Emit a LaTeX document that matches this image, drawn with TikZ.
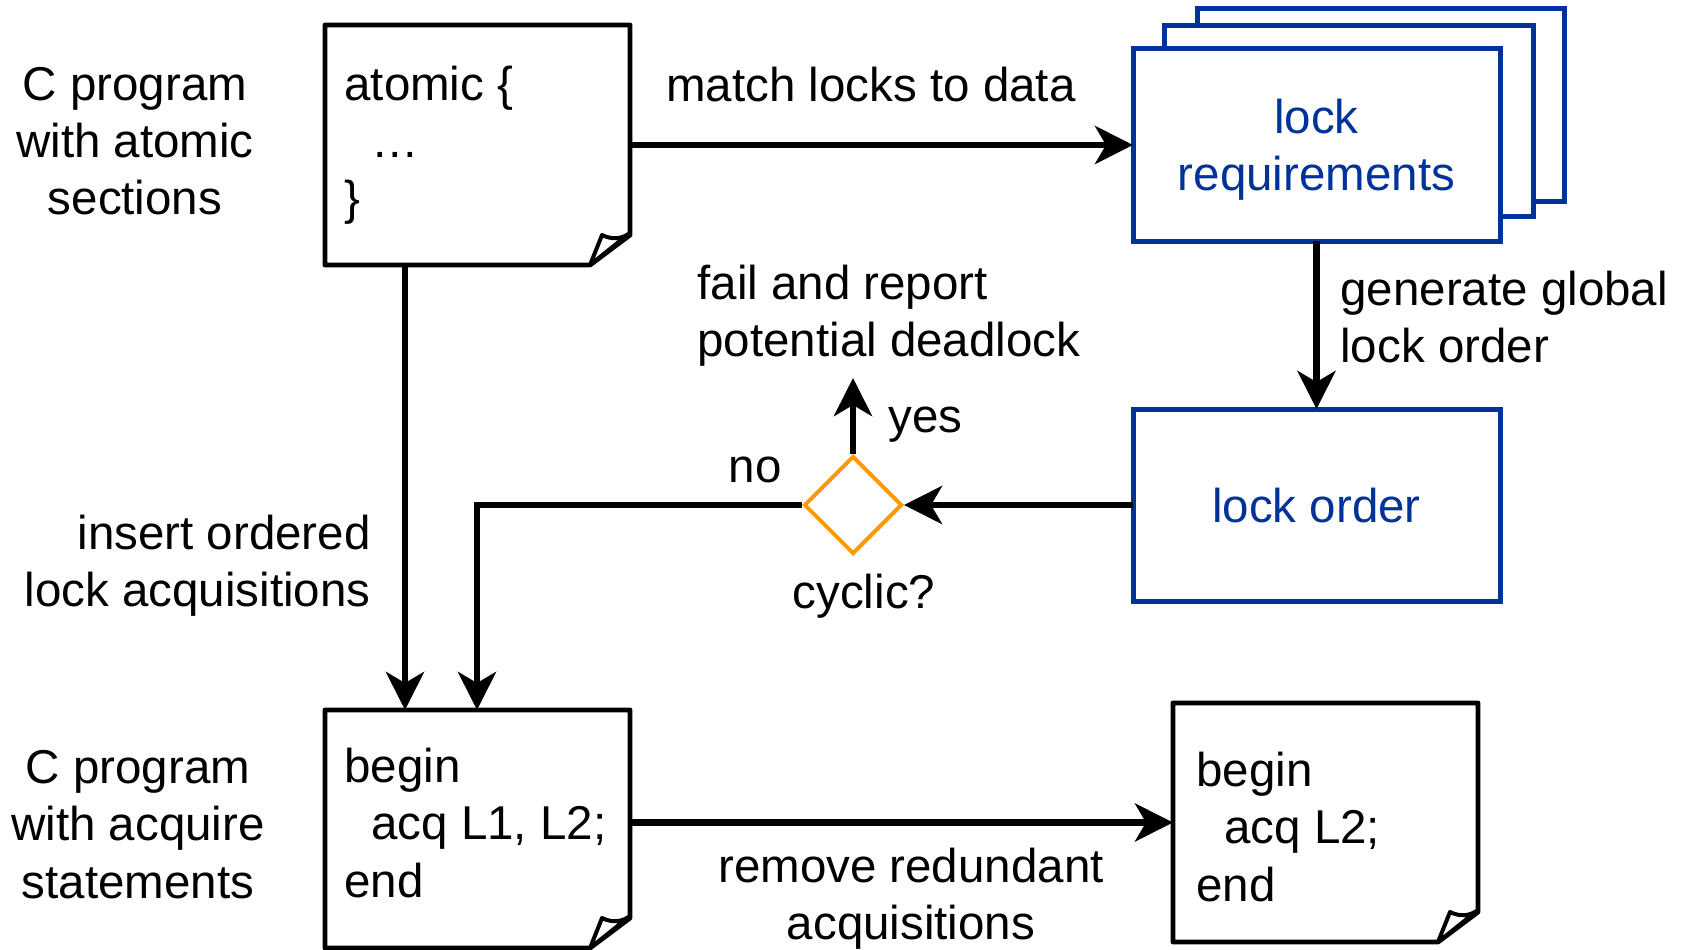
\documentclass[tikz,border=0pt]{standalone}
\usepackage{fontspec}
\setmainfont{Liberation Sans}
\usetikzlibrary{arrows.meta,shapes.geometric}
\definecolor{lblue}{RGB}{0,51,153}
\definecolor{dorange}{RGB}{255,153,0}
\newcommand\mlines[2]{\begin{tabular}[t]{@{}#1@{}}#2\end{tabular}}
\begin{document}
\begin{tikzpicture}[x=1pt,y=-1pt, line width=4.8pt,
  every node/.style={inner sep=0pt, font=\fontsize{47.5}{57.5}\selectfont},
  docbox/.style={rectangle, minimum width=305pt, outer sep=0pt, draw=none},
  bluebox/.style={rectangle, draw=lblue, fill=white, outer sep=0pt, line join=miter, line width=5pt},
  decision/.style={diamond, draw=dorange, line width=4pt, minimum width=98pt, minimum height=98pt, aspect=1},
  arr/.style={line width=6.5pt, -{Stealth[length=38pt,width=38pt,inset=11pt]}},
]
\useasboundingbox (0,0) rectangle (1682,950);

% document boxes
\node[docbox, minimum height=240pt] (top) at (477.5,145) {};
\node[docbox, minimum height=238pt] (bot) at (477.5,829) {};
\node[docbox, minimum height=239pt] (res) at (1325.5,822.5) {};
\foreach \n in {top,bot,res}{
  \draw[line join=round, fill=white] (\n.north west) -- (\n.north east) -- ([yshift=30pt]\n.south east)
     -- ([xshift=-40pt]\n.south east) -- (\n.south west) -- cycle;
  \draw[line join=round, fill=white, line width=4pt] ([xshift=-40pt]\n.south east) -- ([xshift=-28pt,yshift=30pt]\n.south east)
     .. controls ([xshift=-18pt,yshift=25pt]\n.south east) and ([xshift=-8pt,yshift=26pt]\n.south east) .. ([yshift=32pt]\n.south east) -- cycle;
}

% blue boxes
\node[bluebox, minimum width=367pt, minimum height=192pt] (lrback) at (1380.5,105) {};
\node[bluebox, minimum width=369pt, minimum height=190pt] (lrmid) at (1348.5,121) {};
\node[bluebox, minimum width=367pt, minimum height=192pt] (lr) at (1316.5,145) {};
\node[bluebox, minimum width=367pt, minimum height=192pt] (lo) at (1316.5,505) {};
\node[decision] (dia) at (853,505) {};

% texts
\node[anchor=base, text=lblue] (lrt) at (1316.5,133) {\mlines{c}{lock\\requirements}};
\node[anchor=base, text=lblue] (lot) at (1316.5,522) {lock order};
\node[anchor=base] (lbl1) at (135,100) {\mlines{c}{C program\\with atomic\\sections}};
\node[anchor=base west] (topt) at (342,100) {\mlines{l}{atomic \{\\\hspace*{27pt}…\\\}}};
\node[anchor=base] (match) at (871,101) {match locks to data};
\node[anchor=base west] (gen) at (1338,305) {\mlines{l}{generate global\\lock order}};
\node[anchor=base west] (fail) at (695,299) {\mlines{l}{fail and report\\potential deadlock}};
\node[anchor=base west] (yes) at (886,432) {yes};
\node[anchor=base] (no) at (755,482) {no};
\node[anchor=base] (cyc) at (864,608) {cyclic?};
\node[anchor=base east] (ins) at (373,549) {\mlines{r}{insert ordered\\lock acquisitions}};
\node[anchor=base] (lbl2) at (138,783) {\mlines{c}{C program\\with acquire\\statements}};
\node[anchor=base west] (bott) at (342,782) {\mlines{l}{begin\\\hspace*{27pt}acq L1, L2;\\end}};
\node[anchor=base west] (rest) at (1194,786) {\mlines{l}{begin\\\hspace*{28pt}acq L2;\\end}};
\node[anchor=base] (rem) at (911,882) {\mlines{c}{remove redundant\\acquisitions}};

% connectors
\coordinate (yesend) at (853,378);
\coordinate (nocorner) at (477,505);
\coordinate (leftx) at (405,0);
\draw[arr] (top.east) -- (lr.west);
\draw[arr] (lr.south) -- (lo.north);
\draw[arr] (lo.west) -- (dia.east);
\draw[arr] (dia.north) -- (yesend);
\draw[arr] (dia.west) -- (nocorner) -- (nocorner |- bot.north);
\draw[arr] (leftx |- top.south) -- (leftx |- bot.north);
\draw[arr] (bot.east |- res.west) -- (res.west);
\end{tikzpicture}
\end{document}
